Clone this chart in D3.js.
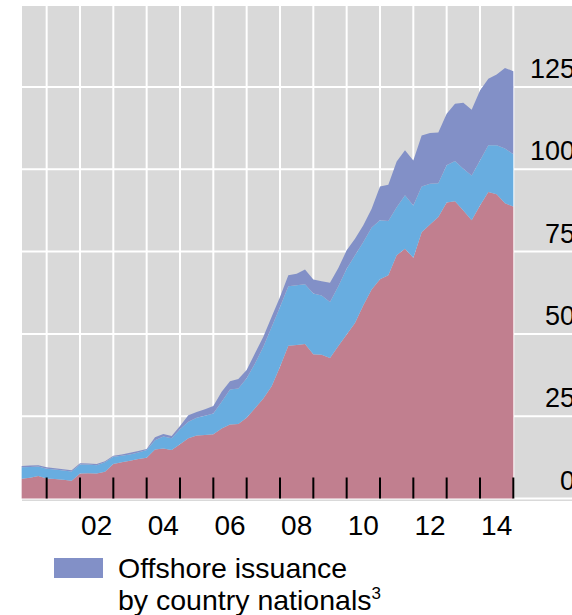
<!DOCTYPE html>
<html>
<head>
<meta charset="utf-8">
<script src="https://cdn.jsdelivr.net/npm/d3@7/dist/d3.min.js"></script>
<style>
    html, body { margin: 0; padding: 0; background: #fff; overflow: hidden; }
    svg { display: block; font-family: 'Liberation Sans', Arial, sans-serif; }
</style>
</head>
<body>
<svg width="572" height="615"></svg>
<script>
'use strict';

///////////////////////////// data ///////////////////////////
var quarters = [
    '2000Q1', '2000Q2', '2000Q3', '2000Q4', '2001Q1', '2001Q2', '2001Q3', '2001Q4',
    '2002Q1', '2002Q2', '2002Q3', '2002Q4', '2003Q1', '2003Q2', '2003Q3', '2003Q4',
    '2004Q1', '2004Q2', '2004Q3', '2004Q4', '2005Q1', '2005Q2', '2005Q3', '2005Q4',
    '2006Q1', '2006Q2', '2006Q3', '2006Q4', '2007Q1', '2007Q2', '2007Q3', '2007Q4',
    '2008Q1', '2008Q2', '2008Q3', '2008Q4', '2009Q1', '2009Q2', '2009Q3', '2009Q4',
    '2010Q1', '2010Q2', '2010Q3', '2010Q4', '2011Q1', '2011Q2', '2011Q3', '2011Q4',
    '2012Q1', '2012Q2', '2012Q3', '2012Q4', '2013Q1', '2013Q2', '2013Q3', '2013Q4',
    '2014Q1', '2014Q2', '2014Q3', '2014Q4'
];

// bottom layer (pink)
var domesticIssuance = [
    6.0, 6.3, 6.8, 6.1, 5.9, 5.7, 5.4, 7.6, 7.7, 7.6,
    8.1, 10.5, 11.0, 11.5, 12.0, 12.4, 14.9, 15.2, 14.7, 16.5,
    18.3, 19.1, 19.3, 19.5, 21.3, 22.5, 22.6, 24.5, 27.4, 30.4,
    34.1, 40.0, 46.4, 46.6, 46.9, 43.8, 43.7, 42.7, 46.3, 49.8,
    53.3, 58.7, 63.5, 66.6, 67.8, 73.9, 75.9, 73.1, 80.9, 83.2,
    85.5, 89.9, 90.3, 87.5, 84.5, 89.0, 93.1, 92.4, 89.7, 88.7
];
// middle layer (light blue)
var offshoreResidents = [
    3.5, 3.3, 2.9, 2.9, 2.9, 2.8, 2.8, 2.7, 2.6, 2.5,
    2.9, 2.2, 2.0, 1.9, 2.0, 2.3, 2.8, 3.6, 3.6, 4.5,
    5.0, 5.4, 5.8, 6.3, 8.1, 10.6, 10.8, 12.0, 13.6, 15.7,
    18.0, 18.2, 18.1, 18.2, 18.2, 18.5, 18.0, 17.0, 18.2, 20.0,
    20.6, 19.2, 18.8, 17.9, 16.5, 14.6, 16.2, 15.9, 13.9, 12.4,
    10.3, 11.3, 12.2, 12.7, 13.6, 13.7, 14.2, 14.9, 16.6, 15.9
];
// top layer (purple)
var offshoreNationals = [
    0.4, 0.4, 0.4, 0.5, 0.4, 0.4, 0.4, 0.4, 0.3, 0.4,
    0.3, 0.3, 0.4, 0.5, 0.4, 0.3, 0.9, 0.8, 0.7, 1.0,
    2.0, 1.8, 2.0, 2.3, 3.0, 2.5, 2.9, 2.5, 3.1, 3.0,
    3.1, 3.0, 3.3, 3.5, 4.5, 4.2, 4.3, 5.8, 5.5, 5.6,
    5.0, 5.1, 5.7, 10.3, 11.0, 13.9, 13.7, 13.7, 15.5, 15.4,
    15.4, 15.7, 17.4, 20.0, 20.0, 21.2, 20.2, 21.5, 24.5, 25.2
];

var yTicks = [0, 25, 50, 75, 100, 125];
var xTickYears = [2002, 2004, 2006, 2008, 2010, 2012, 2014];
var yearBoundaries = [2001, 2002, 2003, 2004, 2005, 2006, 2007, 2008,
    2009, 2010, 2011, 2012, 2013, 2014, 2015];

var keys = ['domestic', 'residents', 'nationals'];
var colours = {domestic: '#c17f8f', residents: '#68ade0', nationals: '#8290c7'};

var table = quarters.map(function(q, i) {
    // quarter-end position in decimal years
    var t = +q.slice(0, 4) + (+q.slice(5)) * 0.25;
    return {t: t, domestic: domesticIssuance[i], residents: offshoreResidents[i], nationals: offshoreNationals[i]};
});

///////////////////////////// set up ///////////////////////////
var svg = d3.select('svg');
var plotLeft = 22, plotTop = 6, plotBottom = 501;

var x = d3.scaleLinear().domain([2000, 2015]).range([13.33, 513.33]);
var y = d3.scaleLinear().domain([0, 150]).range([498.5, 4.7]);

// grey background
svg.append('rect')
    .attr('x', plotLeft)
    .attr('y', plotTop)
    .attr('width', 600 - plotLeft)
    .attr('height', plotBottom - plotTop)
    .attr('fill', '#d9d9d9');

// horizontal grid
svg.append('g').selectAll('line')
    .data(yTicks)
    .enter()
    .append('line')
    .attr('x1', plotLeft)
    .attr('x2', 600)
    .attr('y1', function(d) { return y(d); })
    .attr('y2', function(d) { return y(d); })
    .attr('stroke', '#fff')
    .attr('stroke-width', 2);

// vertical grid
svg.append('g').selectAll('line')
    .data(yearBoundaries)
    .enter()
    .append('line')
    .attr('x1', function(d) { return x(d); })
    .attr('x2', function(d) { return x(d); })
    .attr('y1', plotTop)
    .attr('y2', y(0))
    .attr('stroke', '#fff')
    .attr('stroke-width', 2);

// stacked areas
var stack = d3.stack().keys(keys);
var area = d3.area()
    .x(function(d) { return x(d.data.t); })
    .y0(function(d) { return y(d[0]); })
    .y1(function(d) { return y(d[1]); });

svg.append('g').selectAll('path')
    .data(stack(table))
    .enter()
    .append('path')
    .attr('fill', function(d) { return colours[d.key]; })
    .attr('d', area);

// year ticks
svg.append('g').selectAll('line')
    .data(yearBoundaries)
    .enter()
    .append('line')
    .attr('x1', function(d) { return x(d); })
    .attr('x2', function(d) { return x(d); })
    .attr('y1', y(0) - 21)
    .attr('y2', y(0))
    .attr('stroke', '#000')
    .attr('stroke-width', 2);

// x labels, centred in the year
svg.append('g').selectAll('text')
    .data(xTickYears)
    .enter()
    .append('text')
    .attr('x', function(d) { return x(d + 0.5); })
    .attr('y', 535)
    .attr('text-anchor', 'middle')
    .attr('font-size', 28)
    .attr('fill', '#000')
    .text(function(d) { return d3.format('02d')(d % 100); });

// y labels, sitting above the grid lines on the right
svg.append('g').selectAll('text')
    .data(yTicks)
    .enter()
    .append('text')
    .attr('x', 575)
    .attr('y', function(d) { return y(d) - 9; })
    .attr('text-anchor', 'end')
    .attr('font-size', 27)
    .attr('fill', '#000')
    .text(function(d) { return d; });

// legend
var legend = svg.append('g');
legend.append('rect')
    .attr('x', 54)
    .attr('y', 558)
    .attr('width', 49)
    .attr('height', 20)
    .attr('fill', colours.nationals);
legend.append('text')
    .attr('x', 118)
    .attr('y', 578)
    .attr('font-size', 28.5)
    .text('Offshore issuance');
var line2 = legend.append('text')
    .attr('x', 118)
    .attr('y', 610)
    .attr('font-size', 28.5)
    .text('by country nationals');
line2.append('tspan')
    .attr('dy', -11)
    .attr('font-size', 17)
    .text('3');
</script>
</body>
</html>
